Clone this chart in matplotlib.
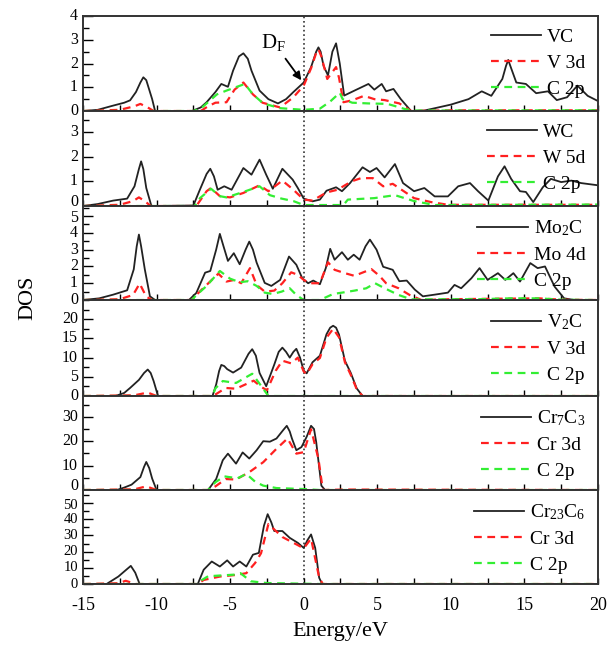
import numpy as np
import matplotlib
matplotlib.use("Agg")
import matplotlib.pyplot as plt
from matplotlib.ticker import MultipleLocator

plt.rcParams['font.family'] = ['Liberation Serif', 'DejaVu Serif']
plt.rcParams['mathtext.fontset'] = 'custom'
plt.rcParams['mathtext.rm'] = 'Liberation Serif'
plt.rcParams['mathtext.it'] = 'Liberation Serif:italic'

# ---- VC ----
vc_e = [-15, -14, -13, -12.2, -11.8, -11.4, -11.1, -10.9, -10.7, -10.5, -10.3, -10.1, -7.6, -7.0, -6.6,
        -6.0, -5.6, -5.15, -4.8, -4.4, -4.1, -3.8, -3.55, -3.0, -2.4, -1.75, -1.2, -0.7, 0, 0.5, 0.85,
        1.0, 1.15, 1.35, 1.65, 1.95, 2.2, 2.45, 2.75, 3.45, 4.4, 4.8, 5.3, 5.6, 6.1, 6.6, 7.3, 8.2, 10.0,
        11.2, 12.1, 12.75, 13.5, 13.75, 13.9, 14.1, 14.45, 15.1, 15.8, 16.6, 17.2, 17.9, 18.6, 19.3, 20]
vc_tot = [0, 0.05, 0.22, 0.35, 0.45, 0.8, 1.2, 1.42, 1.3, 0.9, 0.5, 0.0, 0.0, 0.15, 0.37,
          0.8, 1.14, 1.02, 1.7, 2.3, 2.43, 2.2, 1.7, 0.86, 0.5, 0.32, 0.5, 0.8, 1.2, 1.85, 2.5,
          2.68, 2.5, 1.9, 1.5, 2.5, 2.85, 2.0, 0.65, 0.86, 1.14, 0.9, 1.14, 0.83, 0.93, 0.5, 0.0, 0.02, 0.27,
          0.5, 0.83, 0.64, 1.35, 1.9, 2.15, 1.8, 1.2, 1.14, 0.75, 0.83, 0.46, 0.58, 1.07, 0.64, 0.42]
vc_d_e = [-15, -12.5, -11.5, -11.1, -10.6, -10.2, -7.0, -6.5, -6.0, -5.25, -4.7, -4.1, -3.45, -2.8, -1.6,
          -0.7, 0, 0.5, 0.85, 1.0, 1.2, 1.6, 1.9, 2.2, 2.4, 2.7, 3.3, 4.1, 4.8, 5.5, 6.5, 7.3, 10, 20]
vc_d = [0, 0.05, 0.2, 0.3, 0.15, 0.0, 0.0, 0.2, 0.35, 0.37, 0.9, 1.2, 0.7, 0.35, 0.15,
        0.58, 1.07, 1.8, 2.45, 2.6, 2.3, 1.35, 1.6, 1.85, 1.4, 0.37, 0.45, 0.64, 0.5, 0.46, 0.32, 0.0,
        0.03, 0.03]
vc_p_e = [-15, -7.5, -7.0, -5.9, -5.25, -4.0, -3.45, -2.75, -1.6, 0, 1.1, 1.8, 2.45, 2.65, 3.3, 4.4,
          5.7, 6.9, 7.5, 20]
vc_p = [0, 0, 0.1, 0.7, 0.86, 1.14, 0.7, 0.32, 0.12, 0.05, 0.1, 0.4, 0.77, 0.5, 0.35, 0.32,
        0.3, 0.08, 0.02, 0.03]

# ---- WC ----
wc_e = [-15, -14, -12.95, -12.0, -11.5, -11.2, -11.05, -10.9, -10.7, -10.35, -7.5, -7.1, -6.6, -6.35,
        -6.1, -5.85, -5.4, -4.9, -4.1, -3.55, -3.0, -2.55, -2.1, -1.45, -0.75, -0.4, 0, 0.6, 1.1, 1.55,
        2.2, 2.6, 3.15, 4.0, 4.5, 4.95, 5.5, 6.2, 6.75, 7.5, 8.2, 8.9, 9.8, 10.5, 11.3, 11.85, 12.55,
        13.2, 13.65, 14.1, 14.7, 15.1, 15.6, 16.25, 16.8, 17.5, 18.2, 18.85, 20]
wc_tot = [0, 0.08, 0.22, 0.3, 0.8, 1.5, 1.81, 1.5, 0.73, 0.0, 0.02, 0.6, 1.3, 1.51,
          1.2, 0.66, 0.8, 0.66, 1.54, 1.27, 1.88, 1.27, 0.7, 1.51, 1.07, 0.73, 0.3, 0.19, 0.26, 0.62,
          0.76, 0.6, 0.93, 1.57, 1.38, 1.54, 1.16, 1.7, 0.93, 0.6, 0.73, 0.39, 0.39, 0.8, 0.93, 0.6, 0.22,
          1.2, 1.61, 1.1, 0.6, 0.57, 0.16, 0.76, 1.1, 0.97, 1.03, 0.93, 0.84]
wc_d_e = [-15, -12.5, -11.6, -11.2, -10.8, -10.4, -7.3, -6.6, -6.3, -5.7, -5.0, -4.1, -3.0, -2.4, -1.45,
          -0.7, 0, 0.6, 1.55, 2.3, 3.25, 3.9, 4.7, 5.4, 6.05, 6.65, 7.5, 8.65, 9.8, 20]
wc_d = [0, 0.05, 0.2, 0.35, 0.2, 0, 0, 0.6, 0.73, 0.4, 0.35, 0.53, 0.84, 0.6, 1.03,
        0.66, 0.26, 0.22, 0.55, 0.66, 1.0, 1.13, 1.13, 0.8, 0.9, 0.66, 0.32, 0.16, 0.05, 0.05]
wc_p_e = [-15, -7.4, -7.05, -6.3, -5.7, -5.25, -4.1, -3.0, -2.3, -1.5, -0.7, 0, 2.7, 3.0, 4.8, 6.2,
          7.5, 8.9, 20]
wc_p = [0, 0, 0.32, 0.7, 0.4, 0.35, 0.57, 0.8, 0.44, 0.3, 0.2, 0.04, 0.04, 0.26, 0.32, 0.44,
        0.2, 0.04, 0.06]

# ---- Mo2C ----
mo_e = [-15, -13.9, -12.95, -12.0, -11.55, -11.35, -11.2, -11.05, -10.8, -10.45, -10.1, -7.8, -7.3, -6.7,
        -6.35, -5.95, -5.7, -5.45, -5.15, -4.75, -4.35, -3.95, -3.7, -3.45, -3.2, -2.65, -2.2, -1.6, -1.0,
        -0.5, -0.1, 0.3, 0.65, 1.1, 1.5, 1.8, 2.1, 2.6, 3.0, 3.4, 3.8, 4.2, 4.5, 4.95, 5.4, 6.05, 6.5,
        7.0, 7.55, 8.1, 8.9, 9.8, 10.25, 10.7, 11.4, 11.95, 12.5, 13.2, 13.7, 14.25, 14.7, 15.4, 15.9,
        16.4, 17.05, 17.7, 18.4, 20]
mo_tot = [0, 0.1, 0.32, 0.58, 1.83, 3.2, 3.9, 3.2, 1.83, 0.22, 0, 0, 0.42, 1.63,
          1.73, 3.0, 3.94, 3.2, 2.33, 2.79, 2.13, 3.0, 3.48, 3.0, 2.23, 1.02, 0.84, 1.2, 2.59,
          2.1, 1.3, 1.0, 1.16, 0.94, 1.9, 3.05, 2.4, 2.85, 2.4, 2.7, 2.4, 3.2, 3.6, 3.0, 1.98, 1.8, 1.12,
          1.16, 0.62, 0.22, 0.32, 0.44, 0.9, 0.7, 1.3, 1.9, 1.2, 1.6, 1.2, 1.6, 1.1, 2.2, 1.9,
          2.0, 0.8, 0.1, 0, 0]
mo_d_e = [-15, -12.5, -11.6, -11.15, -10.7, -10.3, -7.6, -7.3, -6.6, -5.8, -5.25, -4.7, -4.25, -3.65,
          -3.2, -2.65, -2.0, -1.45, -0.85, -0.4, 0, 0.4, 1.1, 1.65, 2.1, 2.8, 3.45, 3.9, 4.6, 5.15, 5.6,
          6.45, 7.2, 8.0, 10, 16, 17.5, 20]
mo_d = [0, 0.05, 0.3, 0.98, 0.2, 0, 0, 0.3, 0.9, 1.57, 1.1, 1.2, 1.0, 1.9,
        0.9, 0.5, 0.56, 1.0, 1.65, 1.5, 1.2, 1.0, 1.0, 2.25, 1.8, 1.6, 1.44, 1.6, 1.84, 1.44, 1.0,
        0.7, 0.3, 0.0, 0.05, 0.1, 0.02, 0]
mo_p_e = [-15, -7.6, -7.4, -6.6, -5.7, -5.0, -4.35, -3.8, -3.2, -2.65, -2.1, -1.5, -0.95, -0.5, 0,
          1.1, 2.0, 2.6, 3.45, 4.25, 4.85, 5.5, 6.45, 7.3, 12, 14, 16, 17.5, 20]
mo_p = [0, 0, 0.2, 0.84, 1.73, 1.27, 1.06, 1.12, 0.84, 0.44, 0.36, 0.5, 0.7, 0.3, 0.0,
        0.0, 0.36, 0.44, 0.56, 0.7, 1.0, 0.7, 0.3, 0.04, 0.05, 0.1, 0.1, 0.02, 0]

# ---- V2C ----
v2_e = [-15, -12.8, -12.2, -11.8, -11.2, -10.85, -10.6, -10.4, -10.2, -9.9, -6.2, -5.95, -5.75, -5.6,
        -5.4, -5.2, -4.8, -4.25, -3.75, -3.5, -3.25, -3.0, -2.55, -2.0, -1.7, -1.45, -1.2, -0.95, -0.7,
        -0.5, -0.25, 0, 0.2, 0.6, 1.1, 1.55, 1.8, 2.0, 2.2, 2.4, 2.8, 3.2, 3.6, 4.0, 20]
v2_tot = [0, 0, 0.8, 2.1, 4.2, 6.0, 6.9, 6.0, 3.9, 0, 0, 3.0, 6.5, 8.1,
          7.8, 7.0, 6.1, 7.4, 11.0, 12.2, 10.5, 6.0, 2.55, 8.2, 11.5, 12.6, 11.5, 10.0, 11.5,
          12.3, 10.0, 6.6, 5.9, 8.8, 10.5, 16.1, 17.8, 18.3, 17.8, 16.0, 9.2, 6.0, 2.0, 0, 0]
v2_d_e = [-15, -11.5, -10.6, -10.0, -6.2, -6.0, -5.3, -4.6, -3.4, -2.9, -2.5, -1.9, -1.45, -0.85, -0.4,
          0, 0.2, 0.6, 1.1, 1.55, 2.0, 2.4, 2.8, 3.2, 3.6, 4.0, 20]
v2_d = [0, 0.2, 0.9, 0, 0, 0.4, 2.1, 1.9, 4.0, 2.4, 1.5, 6.6, 9.2, 8.5, 10.0,
        6.4, 5.7, 8.3, 9.9, 15.2, 17.5, 15.3, 8.8, 5.5, 1.8, 0, 0]
v2_p_e = [-15, -6.2, -6.0, -5.5, -4.6, -3.5, -3.0, -2.4, 20]
v2_p = [0, 0, 2.0, 3.9, 3.4, 5.8, 3.2, 0, 0]

# ---- Cr7C3 ----
c7_e = [-15, -12.7, -12.2, -11.7, -11.1, -10.85, -10.7, -10.5, -10.3, -10.0, -6.5, -5.95, -5.5, -5.15,
        -4.6, -4.15, -3.7, -3.2, -2.75, -2.3, -1.85, -1.4, -1.15, -0.95, -0.8, -0.5, -0.15, 0.2, 0.5,
        0.7, 0.85, 1.2, 1.45, 20]
c7_tot = [0, 0, 1.0, 2.2, 5.3, 9.5, 11.5, 9.0, 4.7, 0, 0, 4.5, 12.2, 14.9,
          10.8, 15.4, 12.9, 16.3, 20.0, 19.8, 21.1, 24.5, 26.3, 24.0, 21.1, 16.3, 17.6, 21.8, 26.3,
          25.0, 19.6, 1.8, 0, 0]
c7_d_e = [-15, -11.5, -10.7, -10.0, -6.5, -6.0, -5.3, -4.6, -3.7, -2.75, -1.85, -1.1, -0.5, 0, 0.5,
          1.0, 1.3, 2.7, 20]
c7_d = [0, 0.3, 1.5, 0, 0, 1.5, 4.5, 4.3, 7.3, 11.4, 16.9, 21.1, 14.9, 15.5, 24.9,
        12.8, 0, 0.2, 0]
c7_p_e = [-15, -6.5, -6.0, -5.4, -4.5, -3.9, -3.3, -2.75, -1.85, 0, 1.1, 20]
c7_p = [0, 0, 3.2, 5.6, 4.8, 6.6, 3.4, 1.8, 0.8, 0.4, 0, 0]

# ---- Cr23C6 ----
c23_e = [-15, -13.4, -12.6, -12.1, -11.75, -11.45, -11.15, -7.2, -6.8, -6.25, -5.7, -5.2, -4.8, -4.35,
         -3.9, -3.45, -3.05, -2.7, -2.45, -2.2, -2.0, -1.45, -0.95, -0.4, 0, 0.25, 0.5, 0.78, 1.05, 1.25,
         20]
c23_tot = [0, 0, 4.6, 8.5, 11.2, 7.0, 0, 0, 8.8, 13.9, 10.8, 14.6, 10.8, 13.9,
           10.8, 18.1, 19.2, 36.0, 43.1, 38.0, 32.7, 32.7, 28.5, 25.4, 22.3, 27.0, 30.6, 22.3, 3.9, 0,
           0]
c23_d_e = [-15, -12.6, -12.1, -11.4, -7.2, -6.8, -5.7, -4.6, -3.9, -3.3, -2.9, -2.4, -1.45, -0.4, 0,
           0.5, 1.05, 1.3, 2.6, 20]
c23_d = [0, 0.5, 2.0, 0, 0, 2.5, 4.6, 5.6, 6.7, 13.0, 19.0, 37.0, 29.0, 24.0, 22.0,
         28.0, 4.0, 0, 0, 0]
c23_p_e = [-15, -7.2, -7.0, -6.5, -4.7, -4.3, -3.6, -2.5, 0, 1.2, 20]
c23_p = [0, 0, 2.0, 4.8, 5.8, 6.7, 1.7, 0.6, 0.2, 0, 0]

panels = [
    ((vc_e, vc_tot), (vc_d_e, vc_d), (vc_p_e, vc_p), ['VC', 'V 3d', 'C 2p'], 4, 1),
    ((wc_e, wc_tot), (wc_d_e, wc_d), (wc_p_e, wc_p), ['WC', 'W 5d', 'C 2p'], 3.85, 1),
    ((mo_e, mo_tot), (mo_d_e, mo_d), (mo_p_e, mo_p), ['Mo$_2$C', 'Mo 4d', 'C 2p'], 5.6, 1),
    ((v2_e, v2_tot), (v2_d_e, v2_d), (v2_p_e, v2_p), ['V$_2$C', 'V 3d', 'C 2p'], 25, 5),
    ((c7_e, c7_tot), (c7_d_e, c7_d), (c7_p_e, c7_p), ['Cr$_7$C$_3$', 'Cr 3d', 'C 2p'], 38.5, 10),
    ((c23_e, c23_tot), (c23_d_e, c23_d), (c23_p_e, c23_p), ['Cr$_{23}$C$_6$', 'Cr 3d', 'C 2p'], 58, 10),
]
# tick labels shown on the left of each panel
ytick_sets = [[0, 1, 2, 3, 4], [0, 1, 2, 3], [0, 1, 2, 3, 4, 5], [0, 5, 10, 15, 20],
              [0, 10, 20, 30], [0, 10, 20, 30, 40, 50]]

fig = plt.figure(figsize=(6.13, 6.54), dpi=100)
gs = fig.add_gridspec(6, 1, left=0.1354, right=0.9755, bottom=0.107, top=0.9755,
                      hspace=0, height_ratios=[95, 95, 94, 96, 94, 94])

axes = []
for i, (tot, dd, pp, labels, ymax, step) in enumerate(panels):
    ax = fig.add_subplot(gs[i])
    axes.append(ax)
    ax.plot(tot[0], tot[1], color='#222222', lw=1.3, label=labels[0])
    ax.plot(dd[0], dd[1], color='#ff2020', lw=1.6, ls=(0, (3.5, 2.5)), label=labels[1])
    ax.plot(pp[0], pp[1], color='#33ee33', lw=1.6, ls=(0, (3.5, 2.5)), label=labels[2])
    ax.axvline(0, color='#333333', ls=':', lw=1.2, zorder=0.5)
    ax.set_xlim(-15, 20)
    ax.set_ylim(0, ymax)
    ax.set_yticks(ytick_sets[i])
    ax.yaxis.set_minor_locator(MultipleLocator(step / 2))
    ax.xaxis.set_major_locator(MultipleLocator(5))
    ax.xaxis.set_minor_locator(MultipleLocator(2.5))
    ax.tick_params(axis='both', which='both', direction='in', top=False, right=False)
    ax.tick_params(axis='y', labelleft=False)
    ax.tick_params(axis='y', which='major', length=7, width=1.0)
    ax.tick_params(axis='y', which='minor', length=4, width=1.0)
    ax.tick_params(axis='x', which='both', length=4, width=1.0, labelsize=13, pad=9)
    for s in ax.spines.values():
        s.set_linewidth(1.4)
        s.set_color('#333333')
    if i < 5:
        ax.tick_params(axis='x', labelbottom=False)
    ax.legend(loc='upper right', frameon=False, fontsize=14, handlelength=2.6,
              handletextpad=0.3, labelspacing=0.42, borderaxespad=0.35, borderpad=0.3)

    # y tick labels; labels at shared panel edges nudged apart a little
    ticks = ytick_sets[i]
    fs = 10.5 if i == 5 else 11.5
    for t in ticks:
        dy = 0
        if t == 0 and i in (1, 4):
            dy = 3
        if t == ticks[-1] and i in (2, 5):
            dy = -1.5
        ax.annotate(f'{t:g}', xy=(0, t), xycoords=('axes fraction', 'data'),
                    xytext=(-3.5, dy), textcoords='offset points',
                    ha='right', va='center', fontsize=fs)

axes[-1].set_xticks([-15, -10, -5, 0, 5, 10, 15, 20])
axes[-1].set_xticklabels(['-15', '-10', '-5', '0', '5', '10', '15', '20'])
axes[-1].set_xlabel('Energy/eV', fontsize=16, labelpad=6)
fig.text(0.045, 1 - 298 / 654, 'DOS', rotation=90, fontsize=16, ha='center', va='center')

# Fermi level annotation
axes[0].text(-2.9, 2.45, r'D$_{\mathrm{F}}$', fontsize=15, ha='left', va='bottom')
axes[0].annotate('', xy=(-0.05, 1.2), xytext=(-1.35, 2.3),
                 arrowprops=dict(arrowstyle='-|>', color='k', lw=1.3, mutation_scale=12))

fig.savefig('out.png', dpi=100)
